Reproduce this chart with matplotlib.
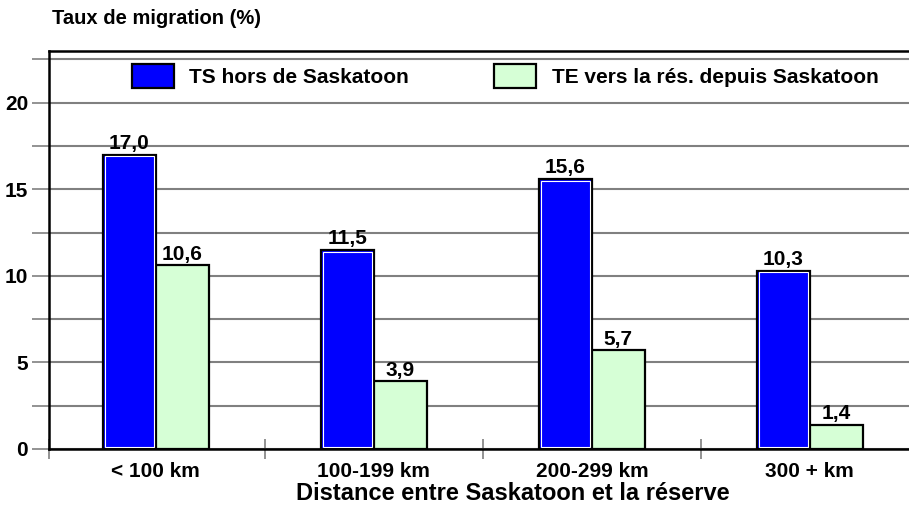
import matplotlib
matplotlib.use("Agg")
import matplotlib.pyplot as plt
import numpy as np
from matplotlib.ticker import MultipleLocator, FixedLocator, NullFormatter

plt.rcParams['font.family'] = ['Liberation Sans', 'DejaVu Sans']
plt.rcParams['font.weight'] = 'bold'

categories = ["< 100 km", "100-199 km", "200-299 km", "300 + km"]
ts_values = [17.0, 11.5, 15.6, 10.3]
te_values = [10.6, 3.9, 5.7, 1.4]
series_names = ["TS hors de Saskatoon", "TE vers la rés. depuis Saskatoon"]
title = "Taux de migration (%)"
xlabel = "Distance entre Saskatoon et la réserve"

blue = "#0000FF"
green = "#D6FFD6"
grey = "#808080"

W, H = 909, 514
fig = plt.figure(figsize=(W / 100, H / 100), dpi=100)
ax = fig.add_axes([49 / W, 1 - 449 / H, (W - 49) / W, (449 - 50.7) / H])

x = np.arange(len(categories))
bw = 0.243
off = bw / 2

b1 = ax.bar(x - off, ts_values, bw, color=blue, edgecolor="black", linewidth=1.6,
            zorder=3, label=series_names[0])
b2 = ax.bar(x + off, te_values, bw, color=green, edgecolor="black", linewidth=1.6,
            zorder=3, label=series_names[1])
# inner white highlight
ax.bar(x - off, np.array(ts_values) - 0.2, bw - 0.016, bottom=0.1, facecolor="none",
       edgecolor="white", linewidth=0.8, zorder=4)

for bars, vals in ((b1, ts_values), (b2, te_values)):
    for r, v in zip(bars, vals):
        ax.annotate(f"{v:.1f}".replace(".", ","), (r.get_x() + r.get_width() / 2, v),
                    xytext=(0, 1), textcoords="offset points", ha="center", va="bottom",
                    fontsize=15, fontweight="bold", zorder=5)

ax.set_xlim(-0.49, -0.49 + (W - 49) / 218)
ax.set_ylim(0, 23)

ax.yaxis.set_major_locator(MultipleLocator(5))
ax.yaxis.set_minor_locator(MultipleLocator(2.5))
ax.grid(axis="y", which="both", color=grey, linewidth=1.5, zorder=1)
ax.tick_params(axis="y", which="both", colors=grey, length=12, width=1.2,
               labelcolor="black", labelsize=15, pad=3, direction="out")

ax.set_xticks(x)
ax.set_xticklabels(categories, fontsize=15, fontweight="bold")
ax.xaxis.set_minor_locator(FixedLocator([-0.49, 0.5, 1.5, 2.5]))
ax.xaxis.set_minor_formatter(NullFormatter())
ax.tick_params(axis="x", which="major", length=0, pad=9.5)
ax.tick_params(axis="x", which="minor", colors=grey, length=14, width=1.2, direction="inout")

for s in ("left", "top", "bottom"):
    ax.spines[s].set_color("black")
    ax.spines[s].set_linewidth(1.8)
ax.spines["right"].set_visible(False)
ax.spines["bottom"].set_zorder(4)

for lab in ax.get_yticklabels():
    lab.set_fontweight("bold")

fig.legend(handles=[b1, b2], labels=series_names, loc="center left",
           bbox_to_anchor=(132 / W, 1 - 76 / H), ncol=2, frameon=False,
           prop={"weight": "bold", "size": 15},
           handlelength=2.0, handleheight=1.44, handletextpad=0.75,
           columnspacing=4.1, borderpad=0, borderaxespad=0)

fig.text(52 / W, 1 - 9 / H, title, ha="left", va="top", fontsize=14.5, fontweight="bold")
fig.text(513 / W, 1 - 494 / H, xlabel, ha="center", va="center", fontsize=17,
         fontweight="bold")

fig.savefig("out.png", dpi=100)
